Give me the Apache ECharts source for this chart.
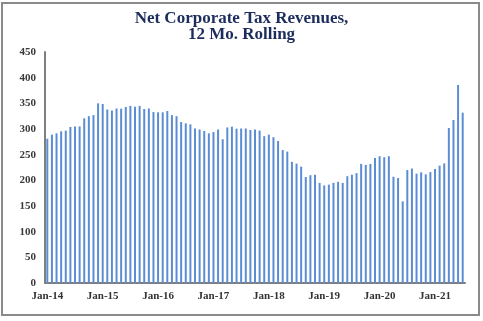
<!DOCTYPE html>
<html>
<head>
<meta charset="utf-8">
<script src="https://cdn.jsdelivr.net/npm/echarts@6/dist/echarts.min.js"></script>
<style>
html,body{margin:0;padding:0;background:#fff;}
#chart{width:483px;height:321px;}
</style>
</head>
<body>
<div id="chart"></div>
<script>
const titleLines = ["Net Corporate Tax Revenues,", "12 Mo. Rolling"];
const yTicks = { min: 0, max: 450, interval: 50 };
const months = ["Jan","Feb","Mar","Apr","May","Jun","Jul","Aug","Sep","Oct","Nov","Dec"];
const startYear = 14;
const values = [
  281, 289, 291.6, 295.5, 296.8, 304, 305, 305, 320.8, 325, 327, 350,
  348.7, 338, 336, 340, 339.6, 343, 345, 343.5, 345, 339, 340, 333,
  332.5, 332.5, 335, 327, 325, 313.6, 311, 309, 301, 299, 296, 291.6,
  294, 299, 280, 303, 304.5, 300.6, 301, 301, 298, 299, 296.8, 286,
  289, 284, 276.6, 259, 256, 236, 232.5, 226.6, 206.5, 210, 211, 195,
  190, 191.5, 195, 197, 195, 208, 211, 214, 232, 230, 232, 243.5,
  247, 245, 247, 207, 204.5, 159, 220, 223, 213, 215.6, 211.7, 216,
  222, 228.6, 233, 302, 317.5, 385.7, 331.8
];
const categories = values.map((v, i) => months[i % 12] + "-" + (startYear + Math.floor(i / 12)));

const chart = echarts.init(document.getElementById('chart'), null, {renderer: 'canvas'});
chart.setOption({
  animation: false,
  backgroundColor: '#ffffff',
  title: {
    text: titleLines.join('\n'),
    left: 'center',
    top: 6,
    textStyle: {
      fontFamily: 'Liberation Serif',
      fontWeight: 'bold',
      fontSize: 17,
      lineHeight: 16,
      color: '#1c2c5c'
    }
  },
  graphic: [{
    type: 'rect',
    shape: { x: 2, y: 3, width: 477, height: 312 },
    style: { fill: 'none', stroke: '#8a8a8a', lineWidth: 2 },
    silent: true
  }],
  grid: { left: 45, right: 18, top: 52, bottom: 38 },
  xAxis: {
    type: 'category',
    data: categories,
    boundaryGap: true,
    axisLine: { lineStyle: { color: '#7f7f7f', width: 2 } },
    axisTick: { show: false },
    axisLabel: {
      interval: 11,
      margin: 8,
      fontFamily: 'Liberation Serif',
      fontWeight: 'bold',
      fontSize: 11,
      color: '#333333'
    }
  },
  yAxis: {
    type: 'value',
    min: yTicks.min,
    max: yTicks.max,
    interval: yTicks.interval,
    splitLine: { show: false },
    axisLine: { show: true, lineStyle: { color: '#7f7f7f', width: 2 } },
    axisTick: { show: false },
    axisLabel: {
      margin: 9,
      fontFamily: 'Liberation Serif',
      fontWeight: 'bold',
      fontSize: 11,
      color: '#3a3a3a'
    }
  },
  series: [{
    type: 'bar',
    data: values,
    barWidth: 2,
    itemStyle: { color: '#5b8dd4' }
  }]
});
</script>
</body>
</html>
